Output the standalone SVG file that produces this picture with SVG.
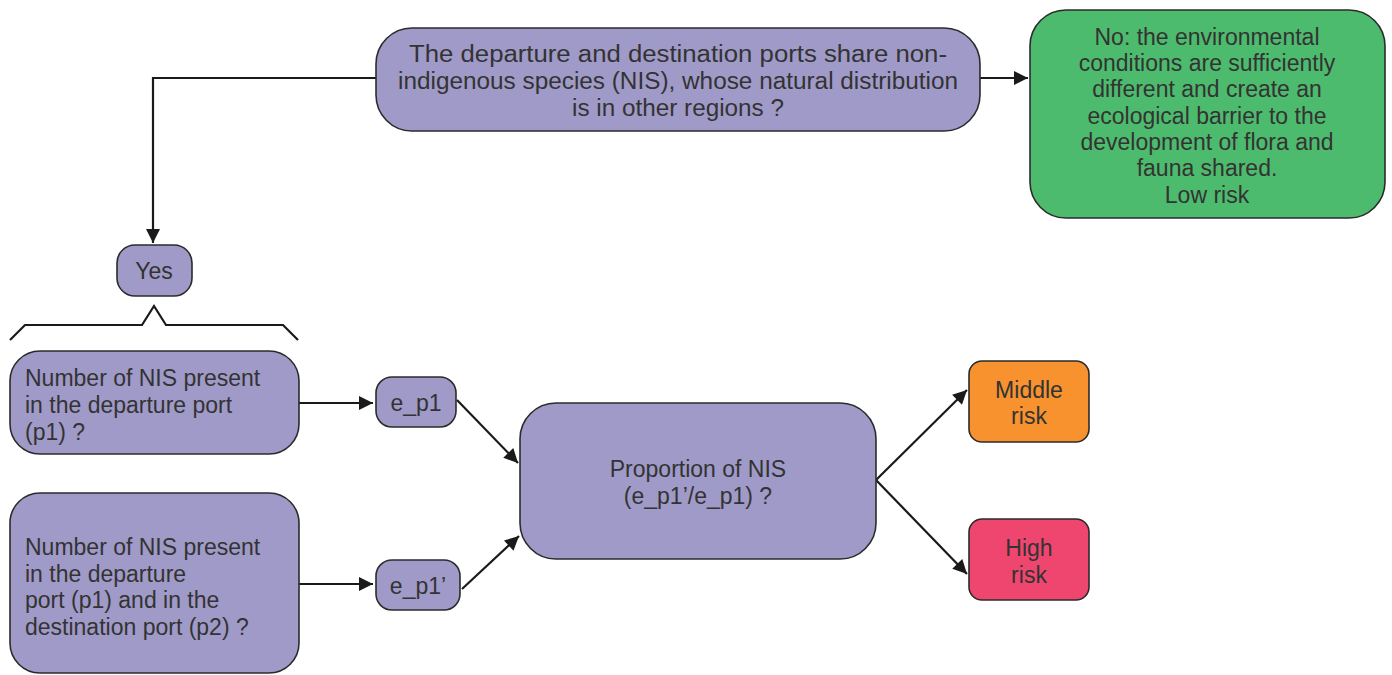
<svg xmlns="http://www.w3.org/2000/svg" width="1392" height="675" viewBox="0 0 1392 675">
<defs>
<style>
.n{fill:#a09ac8;stroke:#2b2b2b;stroke-width:1.6}
.t{font-family:"Liberation Sans","DejaVu Sans",sans-serif;font-size:23px;fill:#333;font-stretch:condensed}
.c{text-anchor:middle}
.e{fill:none;stroke:#1a1a1a;stroke-width:2.2}
</style>
<marker id="a" viewBox="0 0 10 10" refX="10" refY="5" markerWidth="9" markerHeight="9" orient="auto" markerUnits="userSpaceOnUse"><path d="M0,0 L10,5 L0,10 z" fill="#1a1a1a"/></marker>
<marker id="b" viewBox="0 0 10 10" refX="10" refY="5" markerWidth="18" markerHeight="14" orient="auto" markerUnits="userSpaceOnUse"><path d="M0,0 L10,5 L0,10 z" fill="#1a1a1a"/></marker>
</defs>
<rect width="1392" height="675" fill="#fff"/>
<g id="connectors">
<path class="e" d="M376,78 H153 V243" marker-end="url(#b)"/>
<path class="e" d="M980,78 H1028" marker-end="url(#b)"/>
<path class="e" d="M10,340 L25,325 H142 L154,306 L166,325 H283 L298,340"/>
<path class="e" d="M299,403 H373" marker-end="url(#b)"/>
<path class="e" d="M299,584 H373" marker-end="url(#b)"/>
<path class="e" d="M457,400 L518,463" marker-end="url(#b)"/>
<path class="e" d="M462,589 L519,536" marker-end="url(#b)"/>
<path class="e" d="M876,480 L967,390" marker-end="url(#b)"/>
<path class="e" d="M876,480 L967,574" marker-end="url(#b)"/>
</g>
<g id="q1">
<rect class="n" x="376" y="28" width="604" height="103" rx="36"/>
<text class="t c" x="678" y="62" textLength="538" lengthAdjust="spacingAndGlyphs">The departure and destination ports share non-</text>
<text class="t c" x="678" y="89" textLength="560" lengthAdjust="spacingAndGlyphs">indigenous species (NIS), whose natural distribution</text>
<text class="t c" x="678" y="116" textLength="212" lengthAdjust="spacingAndGlyphs">is in other regions ?</text>
</g>
<g id="no">
<rect x="1030" y="10" width="355" height="208" rx="36" fill="#4dbb6d" stroke="#2b2b2b" stroke-width="1.6"/>
<text class="t c" x="1207" y="45">No: the environmental</text>
<text class="t c" x="1207" y="71">conditions are sufficiently</text>
<text class="t c" x="1207" y="97">different and create an</text>
<text class="t c" x="1207" y="124">ecological barrier to the</text>
<text class="t c" x="1207" y="150">development of flora and</text>
<text class="t c" x="1207" y="176">fauna shared.</text>
<text class="t c" x="1207" y="203">Low risk</text>
</g>
<g id="yes">
<rect class="n" x="117" y="245" width="75" height="51" rx="18"/>
<text class="t c" x="154" y="279">Yes</text>
</g>
<g id="p1">
<rect class="n" x="10" y="351" width="289" height="103" rx="30"/>
<text class="t" x="25" y="386">Number of NIS present</text>
<text class="t" x="25" y="413">in the departure port</text>
<text class="t" x="25" y="440">(p1) ?</text>
</g>
<g id="p1p2">
<rect class="n" x="10" y="493" width="289" height="180" rx="30"/>
<text class="t" x="25" y="555">Number of NIS present</text>
<text class="t" x="25" y="582">in the departure</text>
<text class="t" x="25" y="608">port (p1) and in the</text>
<text class="t" x="25" y="635">destination port (p2) ?</text>
</g>
<g id="ep1">
<rect class="n" x="376" y="377" width="80" height="50" rx="16"/>
<text class="t c" x="416" y="411">e_p1</text>
</g>
<g id="ep1b">
<rect class="n" x="376" y="560" width="84" height="50" rx="16"/>
<text class="t c" x="418" y="594">e_p1’</text>
</g>
<g id="prop">
<rect class="n" x="520" y="403" width="356" height="156" rx="36"/>
<text class="t c" x="698" y="477">Proportion of NIS</text>
<text class="t c" x="698" y="504">(e_p1’/e_p1) ?</text>
</g>
<g id="middle">
<rect x="969" y="361" width="120" height="81" rx="13" fill="#f7922f" stroke="#2b2b2b" stroke-width="1.6"/>
<text class="t c" x="1029" y="398">Middle</text>
<text class="t c" x="1029" y="424">risk</text>
</g>
<g id="high">
<rect x="969" y="519" width="120" height="81" rx="13" fill="#ef4670" stroke="#2b2b2b" stroke-width="1.6"/>
<text class="t c" x="1029" y="556">High</text>
<text class="t c" x="1029" y="583">risk</text>
</g>
</svg>
